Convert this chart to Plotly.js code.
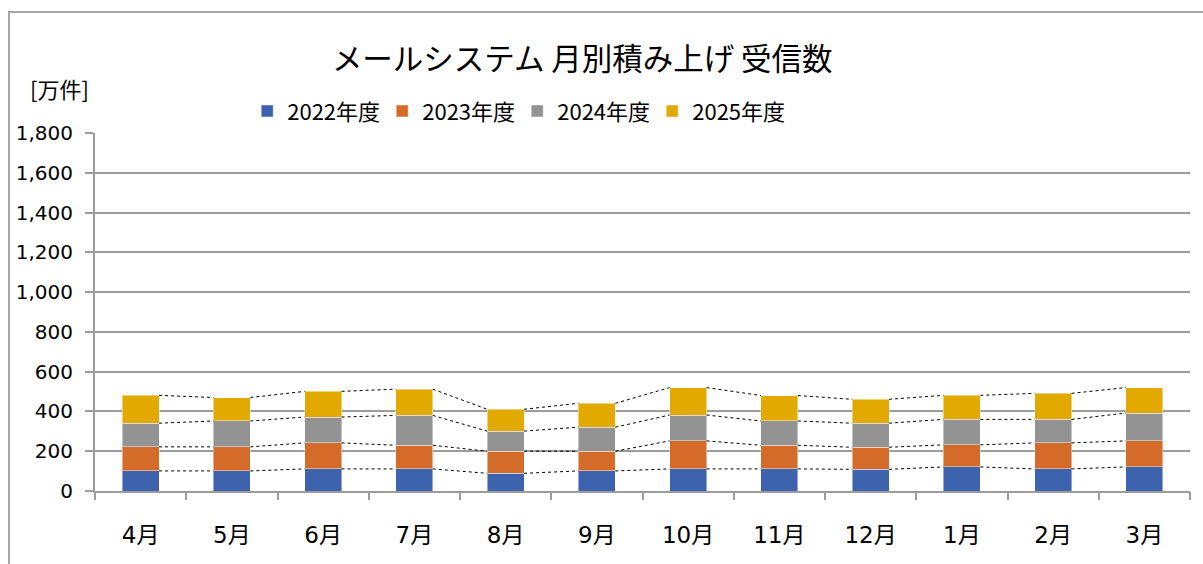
<!DOCTYPE html>
<html>
<head>
<meta charset="utf-8">
<script src="https://cdn.plot.ly/plotly-3.0.1.min.js"></script>
<style>
  html, body { margin: 0; padding: 0; background: #ffffff; }
  #chart { width: 1203px; height: 564px; }
</style>
</head>
<body>
<div id="chart"></div>
<script>
// ---- data ----
const months = ["4月", "5月", "6月", "7月", "8月", "9月", "10月", "11月", "12月", "1月", "2月", "3月"];
const seriesNames = ["2022年度", "2023年度", "2024年度", "2025年度"];
const fy2022 = [101, 101, 111, 111, 89, 101, 111, 111, 109, 121, 111, 121];
const fy2023 = [121, 121, 131, 119, 111, 99, 141, 119, 111, 111, 131, 131];
const fy2024 = [119, 130, 130, 150, 101, 121, 130, 122, 121, 128, 118, 140];
const fy2025 = [140, 118, 129, 132, 110, 120, 138, 128, 120, 121, 131, 128];
const colors = ["#3d63ae", "#d56b28", "#939393", "#e2aa00"];
const yTickVals = [0, 200, 400, 600, 800, 1000, 1200, 1400, 1600, 1800];

// ---- build ----
const allSeries = [fy2022, fy2023, fy2024, fy2025];
const xIdx = months.map((m, i) => i);
const barWidth = 0.405;
const traces = [];
allSeries.forEach((vals, k) => {
  traces.push({
    type: "bar",
    name: seriesNames[k],
    x: xIdx,
    y: vals,
    width: barWidth,
    marker: { color: colors[k], line: { color: "rgba(255,255,255,0.45)", width: 1 } },
    hoverinfo: "skip"
  });
});
// Series lines (connect segment tops between adjacent bars)
let cum = months.map(() => 0);
allSeries.forEach((vals, k) => {
  cum = cum.map((c, i) => c + vals[i]);
  const lx = [], ly = [];
  for (let i = 0; i < months.length - 1; i++) {
    lx.push(i + barWidth / 2, i + 1 - barWidth / 2, null);
    ly.push(cum[i], cum[i + 1], null);
  }
  traces.push({
    type: "scatter", mode: "lines", x: lx, y: ly,
    xaxis: "x2", yaxis: "y",
    line: { color: "#000000", width: 1, dash: "dot" },
    showlegend: false, hoverinfo: "skip"
  });
});

const boundaryTicks = [];
for (let i = 0; i <= months.length; i++) boundaryTicks.push(i - 0.5);

const gridColor = "#9c9c9c";
const numFont = "DejaVu Sans, Noto Sans CJK JP, sans-serif";
const jpFont = "Noto Sans CJK JP, sans-serif";
const legendFont = "Noto Sans CJK JP, sans-serif";

const layout = {
  width: 1203, height: 564,
  margin: { l: 95, r: 13, t: 133, b: 73 },
  paper_bgcolor: "#ffffff", plot_bgcolor: "#ffffff",
  barmode: "stack",
  title: {
    text: "メールシステム 月別積み上げ 受信数",
    font: { family: jpFont, size: 30.5, color: "#000000" },
    x: 0.484, xref: "container", xanchor: "center",
    y: 0.894, yref: "container", yanchor: "middle"
  },
  showlegend: true,
  legend: {
    orientation: "h", traceorder: "normal",
    x: 0.139, xanchor: "left", y: 1.061, yanchor: "middle",
    font: { family: legendFont, size: 22, color: "#000000" },
    entrywidth: 90, entrywidthmode: "pixels",
    bgcolor: "rgba(0,0,0,0)"
  },
  xaxis: {
    range: [-0.5, months.length - 0.5],
    tickvals: xIdx, ticktext: months,
    ticks: "", showgrid: false, zeroline: false,
    showline: true, linecolor: gridColor, linewidth: 2,
    tickfont: { family: numFont, size: 23, color: "#000000" },
    ticklabelstandoff: 22
  },
  xaxis2: {
    overlaying: "x", anchor: "y", side: "bottom",
    range: [-0.5, months.length - 0.5],
    tickvals: boundaryTicks, showticklabels: false,
    ticks: "outside", ticklen: 8, tickwidth: 2, tickcolor: gridColor,
    showgrid: false, zeroline: false, showline: false
  },
  yaxis: {
    range: [0, 1800],
    tickvals: yTickVals, tickformat: ",d",
    ticks: "outside", ticklen: 8, tickwidth: 2, tickcolor: gridColor,
    showgrid: true, gridcolor: gridColor, gridwidth: 2,
    zeroline: false, showline: true, linecolor: gridColor, linewidth: 2,
    tickfont: { family: numFont, size: 20, color: "#000000" },
    ticklabelstandoff: 8
  },
  annotations: [{
    text: "[万件]", xref: "paper", yref: "paper",
    x: (59 - 95) / 1095, y: (491 - 88) / 358,
    xanchor: "center", yanchor: "middle", showarrow: false,
    font: { family: jpFont, size: 22, color: "#000000" }
  }],
  shapes: [{
    type: "rect", xref: "paper", yref: "paper",
    x0: (9 - 95) / 1095, x1: (1215 - 95) / 1095,
    y0: (491 - 580) / 358, y1: (491 - 12) / 358,
    line: { color: "#a6a6a6", width: 2 }, fillcolor: "rgba(0,0,0,0)", layer: "below"
  }]
};

Plotly.newPlot("chart", traces, layout, { displayModeBar: false, staticPlot: true });
</script>
</body>
</html>
